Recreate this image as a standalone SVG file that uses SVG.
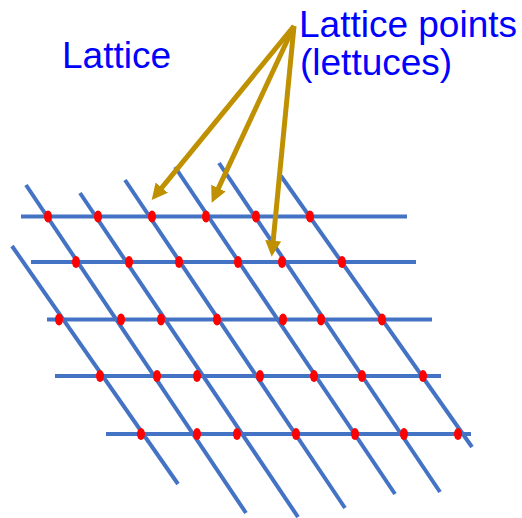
<svg xmlns="http://www.w3.org/2000/svg" width="522" height="518" viewBox="0 0 522 518">
<style>
.txt{font-family:"Liberation Sans",Arial,sans-serif;font-size:37px;fill:#0000FF}
.h,.d{stroke:#4472C4;stroke-width:4;fill:none}
.dot{fill:#FF0000}
.arr{stroke:#BF9000;stroke-width:5;fill:none;marker-end:url(#ah)}
</style>
<defs>
<marker id="ah" markerUnits="userSpaceOnUse" markerWidth="17" markerHeight="17" refX="6" refY="8" orient="auto" viewBox="0 0 17 17">
<path d="M0,0 L16,8 L0,16 z" fill="#BF9000"/>
</marker>
</defs>
<rect width="522" height="518" fill="#FFFFFF"/>
<g id="lattice">
<g id="horizontals">
<line class="h" x1="21" y1="216.5" x2="407" y2="216.5"/>
<line class="h" x1="31" y1="262" x2="416" y2="262"/>
<line class="h" x1="47" y1="319.5" x2="432" y2="319.5"/>
<line class="h" x1="55" y1="376" x2="441" y2="376"/>
<line class="h" x1="106" y1="434" x2="471" y2="434"/>
</g>
<g id="diagonals">
<line class="d" x1="12" y1="246" x2="178" y2="484"/>
<line class="d" x1="26" y1="185" x2="246" y2="513"/>
<line class="d" x1="80" y1="193" x2="298" y2="517"/>
<line class="d" x1="125" y1="180" x2="345" y2="508"/>
<line class="d" x1="175" y1="167" x2="395" y2="494"/>
<line class="d" x1="219" y1="163" x2="440" y2="492"/>
<line class="d" x1="281" y1="176" x2="472" y2="447"/>
</g>
</g>
<g id="points">
<ellipse class="dot" cx="48" cy="216.5" rx="4" ry="6"/>
<ellipse class="dot" cx="98" cy="216.5" rx="4" ry="6"/>
<ellipse class="dot" cx="152" cy="216.5" rx="4" ry="6"/>
<ellipse class="dot" cx="206" cy="216.5" rx="4" ry="6"/>
<ellipse class="dot" cx="256" cy="216.5" rx="4" ry="6"/>
<ellipse class="dot" cx="310" cy="216.5" rx="4" ry="6"/>
<ellipse class="dot" cx="76" cy="262" rx="4" ry="6"/>
<ellipse class="dot" cx="129" cy="262" rx="4" ry="6"/>
<ellipse class="dot" cx="179" cy="262" rx="4" ry="6"/>
<ellipse class="dot" cx="238" cy="262" rx="4" ry="6"/>
<ellipse class="dot" cx="282" cy="262" rx="4" ry="6"/>
<ellipse class="dot" cx="342" cy="262" rx="4" ry="6"/>
<ellipse class="dot" cx="59" cy="319.5" rx="4" ry="6"/>
<ellipse class="dot" cx="121" cy="319.5" rx="4" ry="6"/>
<ellipse class="dot" cx="161" cy="319.5" rx="4" ry="6"/>
<ellipse class="dot" cx="217" cy="319.5" rx="4" ry="6"/>
<ellipse class="dot" cx="283" cy="319.5" rx="4" ry="6"/>
<ellipse class="dot" cx="321" cy="319.5" rx="4" ry="6"/>
<ellipse class="dot" cx="382" cy="319.5" rx="4" ry="6"/>
<ellipse class="dot" cx="100" cy="376" rx="4" ry="6"/>
<ellipse class="dot" cx="157" cy="376" rx="4" ry="6"/>
<ellipse class="dot" cx="197" cy="376" rx="4" ry="6"/>
<ellipse class="dot" cx="260" cy="376" rx="4" ry="6"/>
<ellipse class="dot" cx="314" cy="376" rx="4" ry="6"/>
<ellipse class="dot" cx="362" cy="376" rx="4" ry="6"/>
<ellipse class="dot" cx="423" cy="376" rx="4" ry="6"/>
<ellipse class="dot" cx="141" cy="434" rx="4" ry="6"/>
<ellipse class="dot" cx="197" cy="434" rx="4" ry="6"/>
<ellipse class="dot" cx="237" cy="434" rx="4" ry="6"/>
<ellipse class="dot" cx="296" cy="434" rx="4" ry="6"/>
<ellipse class="dot" cx="355" cy="434" rx="4" ry="6"/>
<ellipse class="dot" cx="404" cy="434" rx="4" ry="6"/>
<ellipse class="dot" cx="458" cy="434" rx="4" ry="6"/>
</g>
<g id="label-lattice">
<text class="txt" x="62" y="68">Lattice</text>
</g>
<g id="label-points">
<text class="txt" x="299" y="37">Lattice points</text>
<text class="txt" x="300" y="75">(lettuces)</text>
</g>
<g id="connectors">
<line class="arr" x1="294" y1="26" x2="158" y2="192.3"/>
<line class="arr" x1="294" y1="26" x2="215.9" y2="193.6"/>
<line class="arr" x1="294" y1="26" x2="272.6" y2="246.7"/>
</g>
</svg>
